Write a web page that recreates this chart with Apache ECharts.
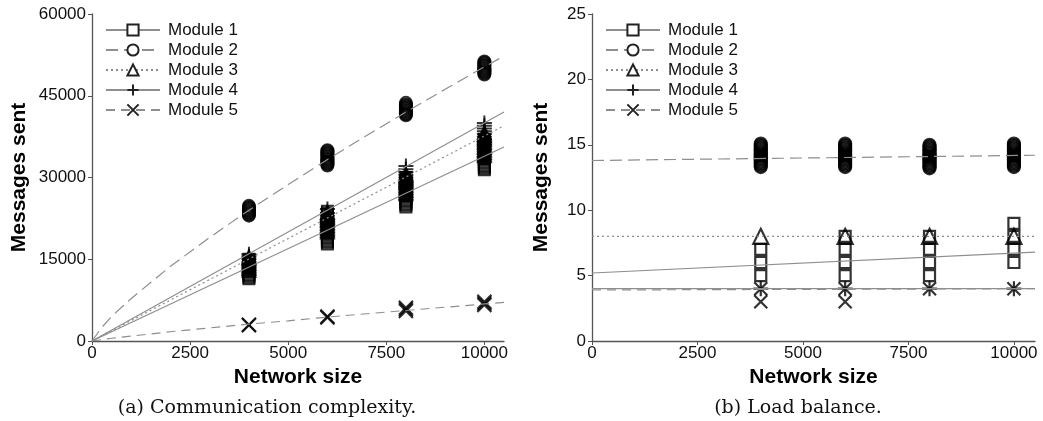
<!DOCTYPE html>
<html>
<head>
<meta charset="utf-8">
<script src="https://cdn.jsdelivr.net/npm/echarts@6/dist/echarts.min.js"></script>
<style>
  html, body { margin: 0; padding: 0; background: #fff; }
  #main { width: 1043px; height: 421px; }
</style>
</head>
<body>
<div id="main"></div>
<script>
var modules = ["Module 1", "Module 2", "Module 3", "Module 4", "Module 5"];
var xTicks = [0, 2500, 5000, 7500, 10000];

// (a) fitted lines: [network size, messages]
var commLine1 = [[0, 0], [10500, 35600]];
var commLine2 = [[0, 0], [250, 2500], [500, 4500], [1000, 7800], [2000, 13700], [3000, 19000], [4000, 24000],
                 [5000, 28700], [6000, 33300], [7000, 37700], [8000, 42000], [9000, 46200], [10000, 50300], [10500, 52300]];
var commLine3 = [[0, 0], [10500, 39500]];
var commLine4 = [[0, 0], [10500, 42000]];
var commLine5 = [[0, 0], [500, 500], [1000, 900], [2000, 1700], [3000, 2400], [4000, 3100], [5000, 3700],
                 [6000, 4400], [7000, 5000], [8000, 5600], [9000, 6200], [10000, 6800], [10500, 7100]];

// (a) measurements per network size (runs overlap into solid stacks)
var commPts1 = {
  4000: [11400, 11700, 12000, 12300, 12600, 12900, 13200, 13500, 13800, 14100, 14400, 14700, 15000],
  6000: [17800, 18100, 18400, 18700, 19000, 19300, 19600, 19900, 20200, 20500, 20800, 21100, 21400,
         21700, 22000, 22300, 22600, 22900, 23200, 23500, 23800],
  8000: [24600, 24900, 25200, 25500, 25800, 26100, 26400, 26700, 27000, 27300, 27600, 27900, 28200,
         28500, 28800, 29100, 29400, 29700, 30000],
  10000: [31400, 31700, 32000, 32300, 32600, 32900, 33200, 33500, 33800, 34100, 34400, 34700, 35000,
          35300, 35600, 35900, 36200, 36500, 36800, 37000]
};
var commPts2 = {
  4000: [23000, 23200, 23400, 23600, 23800, 24000, 24200, 24400, 24600, 24800],
  6000: [32200, 32400, 32600, 32800, 33000, 33200, 33400, 33600, 33800, 34000, 34200, 34400, 34600, 34800, 35000],
  8000: [41400, 41600, 41800, 42000, 42200, 42400, 42600, 42800, 43000, 43200, 43400, 43700],
  10000: [48900, 49100, 49300, 49500, 49700, 49900, 50100, 50300, 50500, 50700, 50900, 51100, 51300]
};
var commPts3 = {
  4000: [13000, 13300, 13600, 13900, 14200, 14500, 14800, 15100, 15400],
  6000: [20000, 20300, 20600, 20900, 21200, 21500, 21800, 22100, 22400, 22700, 23000, 23300, 23600],
  8000: [27000, 27300, 27600, 27900, 28200, 28500, 28800, 29100, 29400, 29700, 30000, 30300, 30600],
  10000: [34000, 34300, 34600, 34900, 35200, 35500, 35800, 36100, 36400, 36700, 37000, 37300, 37600, 37900, 38200]
};
var commPts4 = {
  4000: [14000, 14500, 15000, 15500, 15900],
  6000: [21000, 21500, 22000, 22500, 23000, 23500, 24200],
  8000: [28000, 28500, 29000, 29500, 30000, 30500, 31000, 31500, 32100],
  10000: [36000, 36500, 37000, 37500, 38000, 38500, 39000, 39500, 40000]
};
var commPts5 = {
  4000: [2900, 3000],
  6000: [4300, 4500],
  8000: [5500, 5800, 6100],
  10000: [6600, 6900, 7200]
};

// (b) fitted lines
var loadLine1 = [[0, 5.2], [10500, 6.8]];
var loadLine2 = [[0, 13.8], [10500, 14.2]];
var loadLine3 = [[0, 8.0], [10500, 8.0]];
var loadLine4 = [[0, 4.0], [10500, 4.0]];
var loadLine5 = [[0, 3.9], [10500, 4.0]];

// (b) measurements per network size
var loadPts1 = { 4000: [5, 6, 7], 6000: [5, 6, 7, 8], 8000: [5, 6, 7, 8], 10000: [6, 7, 8, 9] };
var loadPts2 = {
  4000: [13.3, 13.4, 13.5, 13.6, 13.7, 13.8, 13.9, 14.0, 14.1, 14.2, 14.3, 14.4, 14.5, 14.6, 14.7, 14.8, 14.9, 15.0, 15.1],
  6000: [13.3, 13.4, 13.5, 13.6, 13.7, 13.8, 13.9, 14.0, 14.1, 14.2, 14.3, 14.4, 14.5, 14.6, 14.7, 14.8, 14.9, 15.0, 15.1],
  8000: [13.2, 13.3, 13.4, 13.5, 13.6, 13.7, 13.8, 13.9, 14.0, 14.1, 14.2, 14.3, 14.4, 14.5, 14.6, 14.7, 14.8, 14.9, 15.0],
  10000: [13.3, 13.4, 13.5, 13.6, 13.7, 13.8, 13.9, 14.0, 14.1, 14.2, 14.3, 14.4, 14.5, 14.6, 14.7, 14.8, 14.9, 15.0, 15.1]
};
var loadPts3 = { 4000: [8], 6000: [8], 8000: [8], 10000: [8] };
var loadPts4 = { 4000: [4], 6000: [4], 8000: [4], 10000: [4] };
var loadPts5 = { 4000: [3, 4], 6000: [3, 4], 8000: [4], 10000: [4] };

var plusPath = 'path://M5,0L5,10M0,5L10,5';
var crossPath = 'path://M0,0L10,10M10,0L0,10';
var symbols = ['rect', 'circle', 'triangle', plusPath, crossPath];
var lineTypes = ['solid', [12, 6], [2, 3], 'solid', [9, 6]];
var lineGray = '#8e8e8e';

function flatten(pts) {
  var out = [];
  for (var x in pts) {
    pts[x].forEach(function (v) { out.push([Number(x), v]); });
  }
  return out;
}

function buildSeries(gridIdx, lines, pts, sizes, border) {
  var list = [];
  for (var i = 0; i < modules.length; i++) {
    list.push({
      name: modules[i],
      type: 'line',
      xAxisIndex: gridIdx, yAxisIndex: gridIdx,
      data: lines[i],
      showSymbol: false,
      symbol: symbols[i],
      silent: true,
      lineStyle: { color: lineGray, width: 1.2, type: lineTypes[i] },
      itemStyle: { color: '#fff', borderColor: '#222', borderWidth: 1 },
      z: 3
    });
  }
  for (var i = 0; i < modules.length; i++) {
    list.push({
      name: modules[i] + ' pts',
      type: 'scatter',
      xAxisIndex: gridIdx, yAxisIndex: gridIdx,
      data: flatten(pts[i]),
      symbol: symbols[i],
      symbolSize: sizes[i],
      silent: true,
      itemStyle: { color: 'rgba(0,0,0,0)', borderColor: '#000', borderWidth: border },
      z: 2
    });
  }
  return list;
}

var plainNum = function (v) { return String(v); };

function xAxisOpt(gridIdx) {
  return {
    type: 'value', gridIndex: gridIdx, min: 0, max: 10500, interval: 2500,
    name: 'Network size', nameLocation: 'middle', nameGap: 19,
    nameTextStyle: { fontFamily: 'Liberation Sans', fontWeight: 'bold', fontSize: 21, color: '#000' },
    axisLine: { lineStyle: { color: '#555', width: 1.3 } },
    axisTick: { show: true, length: 4, customValues: xTicks, lineStyle: { color: '#555' } },
    axisLabel: { customValues: xTicks, formatter: plainNum, margin: 4, fontFamily: 'Liberation Sans', fontSize: 17, color: '#111' },
    splitLine: { show: false }
  };
}

function yAxisOpt(gridIdx, max, interval, gap) {
  return {
    type: 'value', gridIndex: gridIdx, min: 0, max: max, interval: interval,
    name: 'Messages sent', nameLocation: 'middle', nameGap: gap,
    nameTextStyle: { fontFamily: 'Liberation Sans', fontWeight: 'bold', fontSize: 21, color: '#000' },
    axisLine: { show: true, lineStyle: { color: '#555', width: 1.3 } },
    axisTick: { show: true, length: 4, lineStyle: { color: '#555' } },
    axisLabel: { formatter: plainNum, margin: 6, fontFamily: 'Liberation Sans', fontSize: 17, color: '#111' },
    splitLine: { show: false }
  };
}

function legendOpt(left) {
  return {
    data: modules, left: left, top: 16, orient: 'vertical',
    itemWidth: 54, itemHeight: 14, itemGap: 2,
    selectedMode: false,
    textStyle: { fontFamily: 'Liberation Sans', fontSize: 17, lineHeight: 18, color: '#111', padding: [0, 0, 0, 3] }
  };
}

var chart = echarts.init(document.getElementById('main'), null, { renderer: 'canvas' });

var commSeries = buildSeries(0,
  [commLine1, commLine2, commLine3, commLine4, commLine5],
  [commPts1, commPts2, commPts3, commPts4, commPts5],
  [11, 12, 13, 15, 14], 2);
var loadSeries = buildSeries(1,
  [loadLine1, loadLine2, loadLine3, loadLine4, loadLine5],
  [loadPts1, loadPts2, loadPts3, loadPts4, loadPts5],
  [11, 12, 15, 15, 13], 2.2);

var option = {
  animation: false,
  backgroundColor: '#fff',
  title: [
    { text: '(a) Communication complexity.', left: 262, top: 394, textAlign: 'center',
      textStyle: { fontFamily: 'DejaVu Serif', fontWeight: 'normal', fontSize: 19, color: '#111' } },
    { text: '(b) Load balance.', left: 793, top: 394, textAlign: 'center',
      textStyle: { fontFamily: 'DejaVu Serif', fontWeight: 'normal', fontSize: 19, color: '#111' } }
  ],
  legend: [legendOpt(100), legendOpt(600)],
  grid: [
    { left: 92, top: 14, width: 412, height: 327 },
    { left: 592, top: 14, width: 443, height: 327 }
  ],
  xAxis: [xAxisOpt(0), xAxisOpt(1)],
  yAxis: [yAxisOpt(0, 60000, 15000, 62), yAxisOpt(1, 25, 5, 40)],
  series: commSeries.concat(loadSeries)
};
chart.setOption(option);
</script>
</body>
</html>
